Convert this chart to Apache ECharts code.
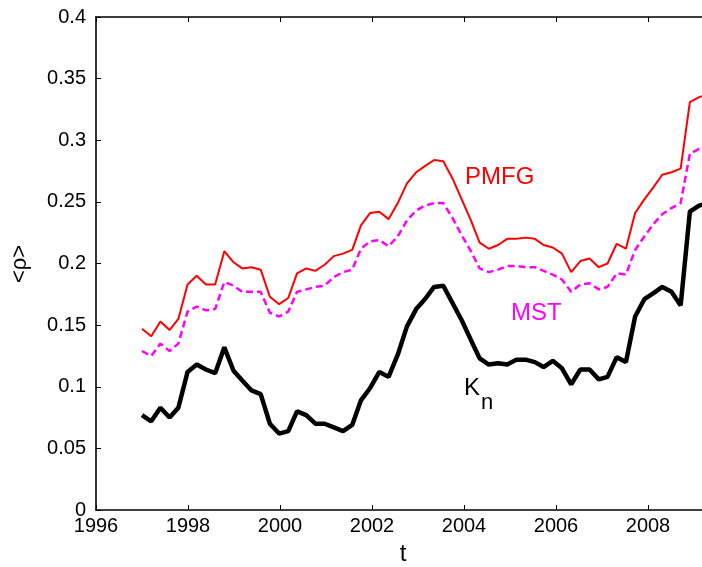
<!DOCTYPE html>
<html>
<head>
<meta charset="utf-8">
<script src="https://cdn.jsdelivr.net/npm/echarts@6/dist/echarts.min.js"></script>
<style>
  html, body { margin: 0; padding: 0; background: #fff; }
  #chart { width: 702px; height: 567px; }
</style>
</head>
<body>
<div id="chart"></div>
<script>
// Sampling times (years)
const times = [
  1997.00, 1997.20, 1997.40, 1997.60, 1997.79, 1997.99, 1998.19, 1998.39, 1998.59, 1998.79,
  1998.99, 1999.18, 1999.38, 1999.58, 1999.78, 1999.98, 2000.18, 2000.37, 2000.57, 2000.77,
  2000.97, 2001.17, 2001.37, 2001.57, 2001.76, 2001.96, 2002.16, 2002.36, 2002.56, 2002.76,
  2002.96, 2003.15, 2003.35, 2003.55, 2003.75, 2003.95, 2004.15, 2004.34, 2004.54, 2004.74,
  2004.94, 2005.14, 2005.34, 2005.54, 2005.73, 2005.93, 2006.13, 2006.33, 2006.53, 2006.73,
  2006.93, 2007.12, 2007.32, 2007.52, 2007.72, 2007.92, 2008.12, 2008.31, 2008.51, 2008.71,
  2008.91, 2009.11, 2009.31
];

// Mean correlation over the PMFG edges
const pmfg = [
  0.147, 0.141, 0.153, 0.146, 0.155, 0.183, 0.190, 0.183, 0.183, 0.210,
  0.201, 0.196, 0.197, 0.195, 0.173, 0.167, 0.172, 0.192, 0.196, 0.194,
  0.199, 0.206, 0.208, 0.211, 0.231, 0.241, 0.242, 0.236, 0.249, 0.265,
  0.274, 0.279, 0.284, 0.283, 0.269, 0.252, 0.235, 0.217, 0.212, 0.215,
  0.220, 0.220, 0.221, 0.220, 0.215, 0.213, 0.208, 0.193, 0.202, 0.204,
  0.197, 0.200, 0.216, 0.212, 0.241, 0.252, 0.262, 0.272, 0.274, 0.277,
  0.331, 0.335, 0.337
];

// Mean correlation over the MST edges
const mst = [
  0.129, 0.125, 0.135, 0.129, 0.135, 0.161, 0.165, 0.162, 0.163, 0.185,
  0.182, 0.177, 0.177, 0.177, 0.160, 0.157, 0.161, 0.177, 0.179, 0.181,
  0.182, 0.189, 0.193, 0.195, 0.212, 0.218, 0.219, 0.214, 0.222, 0.235,
  0.243, 0.247, 0.249, 0.249, 0.237, 0.223, 0.210, 0.196, 0.193, 0.195,
  0.198, 0.198, 0.197, 0.197, 0.194, 0.191, 0.187, 0.177, 0.183, 0.184,
  0.179, 0.181, 0.192, 0.191, 0.211, 0.222, 0.232, 0.240, 0.245, 0.249,
  0.289, 0.293, 0.295
];

// Mean correlation over the complete graph K_n
const kn = [
  0.077, 0.072, 0.083, 0.075, 0.083, 0.112, 0.118, 0.114, 0.111, 0.132,
  0.113, 0.105, 0.097, 0.094, 0.070, 0.062, 0.064, 0.080, 0.077, 0.070,
  0.070, 0.067, 0.064, 0.069, 0.089, 0.099, 0.112, 0.108, 0.126, 0.149,
  0.163, 0.171, 0.181, 0.182, 0.168, 0.154, 0.138, 0.123, 0.118, 0.119,
  0.118, 0.122, 0.122, 0.120, 0.116, 0.121, 0.115, 0.102, 0.114, 0.114,
  0.106, 0.108, 0.124, 0.120, 0.157, 0.171, 0.176, 0.181, 0.177, 0.166,
  0.242, 0.247, 0.249
];

const pair = vals => vals.map((v, i) => [times[i], v]);

const FONT = '"Liberation Sans", Arial, Helvetica, sans-serif';

const chart = echarts.init(document.getElementById('chart'), null, { renderer: 'canvas' });

const axisLine = { show: true, lineStyle: { color: '#000', width: 1.6 } };
const axisTick = { show: true, inside: true, length: 5, lineStyle: { color: '#000', width: 1 } };

chart.setOption({
  animation: false,
  backgroundColor: '#fff',
  // the plot box runs past the right edge of the canvas (to t = 2010)
  grid: { left: 96, top: 17, width: 644, height: 493, containLabel: false, outerBoundsMode: 'none' },
  xAxis: [
    {
      type: 'value', min: 1996, max: 2010, interval: 2, position: 'bottom',
      axisLine, axisTick,
      axisLabel: { color: '#000', fontSize: 20, fontFamily: FONT, margin: 6, formatter: v => String(v) },
      splitLine: { show: false }
    },
    {
      type: 'value', min: 1996, max: 2010, interval: 2, position: 'top',
      axisLine, axisTick,
      axisLabel: { show: false },
      splitLine: { show: false }
    }
  ],
  yAxis: {
    type: 'value', min: 0, max: 0.4, interval: 0.05,
    axisLine, axisTick,
    axisLabel: { color: '#000', fontSize: 20, fontFamily: FONT, margin: 10 },
    splitLine: { show: false }
  },
  series: [
    {
      name: 'PMFG', type: 'line', data: pair(pmfg), showSymbol: false,
      lineStyle: { color: '#ff0000', width: 2 }, clip: true
    },
    {
      name: 'MST', type: 'line', data: pair(mst), showSymbol: false,
      lineStyle: { color: '#ff00ff', width: 2.5, type: [7, 4] }, clip: true
    },
    {
      name: 'Kn', type: 'line', data: pair(kn), showSymbol: false,
      lineStyle: { color: '#000', width: 4.5 }, clip: true
    }
  ],
  graphic: [
    {
      type: 'text', x: 20, y: 264, rotation: Math.PI / 2,
      style: { text: '<ρ>', fontSize: 22, fontFamily: FONT, fill: '#000', align: 'center', verticalAlign: 'middle' }
    },
    {
      type: 'text', x: 403, y: 554,
      style: { text: 't', fontSize: 24, fontFamily: FONT, fill: '#000', align: 'center', verticalAlign: 'middle' }
    },
    {
      type: 'text', x: 465, y: 177,
      style: { text: 'PMFG', fontSize: 24, fontFamily: FONT, fill: '#ff0000', align: 'left', verticalAlign: 'middle' }
    },
    {
      type: 'text', x: 511, y: 313,
      style: { text: 'MST', fontSize: 24, fontFamily: FONT, fill: '#ff00ff', align: 'left', verticalAlign: 'middle' }
    },
    {
      type: 'text', x: 464, y: 388,
      style: { text: 'K', fontSize: 24, fontFamily: FONT, fill: '#000', align: 'left', verticalAlign: 'middle' }
    },
    {
      type: 'text', x: 481, y: 403,
      style: { text: 'n', fontSize: 22, fontFamily: FONT, fill: '#000', align: 'left', verticalAlign: 'middle' }
    }
  ]
});
</script>
</body>
</html>
